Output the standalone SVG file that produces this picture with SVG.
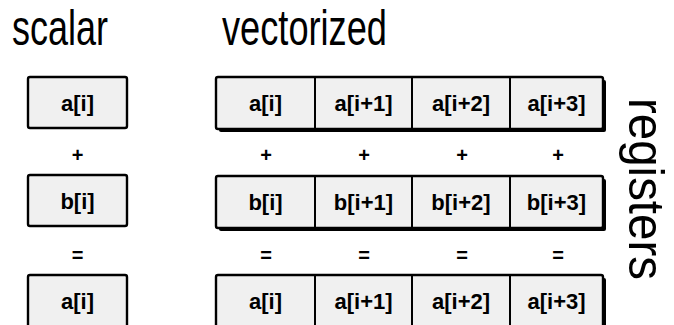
<svg xmlns="http://www.w3.org/2000/svg" width="674" height="325" viewBox="0 0 674 325">
<style>
.box{fill:#f0f0f0;stroke:#000;stroke-width:2.4}
.shadow{fill:#000}
.div{stroke:#000;stroke-width:2}
.lbl{font-family:"Liberation Sans",Arial,sans-serif;font-weight:bold;font-size:22px;text-anchor:middle;fill:#000}
.op{font-family:"Liberation Sans",Arial,sans-serif;font-weight:bold;font-size:20px;text-anchor:middle;fill:#000}
.title{font-family:"Liberation Sans",Arial,sans-serif;font-size:50px;fill:#000}
</style>
<rect width="674" height="325" fill="#fff"/>
<g id="titles">
<text class="title" x="12" y="45" textLength="96" lengthAdjust="spacingAndGlyphs">scalar</text>
<text class="title" x="222" y="45" textLength="165" lengthAdjust="spacingAndGlyphs">vectorized</text>
<text class="title" transform="translate(629,98) rotate(90)" x="0" y="0" textLength="182" lengthAdjust="spacingAndGlyphs">registers</text>
</g>
<g id="scalar-a">
<rect class="box" x="28" y="77" width="99" height="51" rx="2"/>
<text class="lbl" x="77.5" y="111">a[i]</text>
</g>
<g id="scalar-b">
<rect class="box" x="28" y="175" width="99" height="51" rx="2"/>
<text class="lbl" x="77.5" y="209">b[i]</text>
</g>
<g id="scalar-res">
<rect class="box" x="28" y="275" width="99" height="60" rx="2"/>
<text class="lbl" x="77.5" y="309">a[i]</text>
</g>
<g id="vector-a">
<rect class="shadow" x="219" y="80" width="387" height="52" rx="2"/>
<rect class="box" x="216" y="77" width="387" height="52" rx="2"/>
<line class="div" x1="315" y1="77" x2="315" y2="129"/>
<line class="div" x1="412" y1="77" x2="412" y2="129"/>
<line class="div" x1="510" y1="77" x2="510" y2="129"/>
<text class="lbl" x="265.5" y="111">a[i]</text>
<text class="lbl" x="363.5" y="111">a[i+1]</text>
<text class="lbl" x="461" y="111">a[i+2]</text>
<text class="lbl" x="556.5" y="111">a[i+3]</text>
</g>
<g id="vector-b">
<rect class="shadow" x="219" y="179" width="387" height="52" rx="2"/>
<rect class="box" x="216" y="176" width="387" height="52" rx="2"/>
<line class="div" x1="315" y1="176" x2="315" y2="228"/>
<line class="div" x1="412" y1="176" x2="412" y2="228"/>
<line class="div" x1="510" y1="176" x2="510" y2="228"/>
<text class="lbl" x="265.5" y="210">b[i]</text>
<text class="lbl" x="363.5" y="210">b[i+1]</text>
<text class="lbl" x="461" y="210">b[i+2]</text>
<text class="lbl" x="556.5" y="210">b[i+3]</text>
</g>
<g id="vector-res">
<rect class="shadow" x="219" y="278" width="387" height="60" rx="2"/>
<rect class="box" x="216" y="275" width="387" height="60" rx="2"/>
<line class="div" x1="315" y1="275" x2="315" y2="335"/>
<line class="div" x1="412" y1="275" x2="412" y2="335"/>
<line class="div" x1="510" y1="275" x2="510" y2="335"/>
<text class="lbl" x="265.5" y="309">a[i]</text>
<text class="lbl" x="363.5" y="309">a[i+1]</text>
<text class="lbl" x="461" y="309">a[i+2]</text>
<text class="lbl" x="556.5" y="309">a[i+3]</text>
</g>
<g id="operators">
<text class="op" x="77.5" y="162">+</text>
<text class="op" x="266" y="162">+</text>
<text class="op" x="364" y="162">+</text>
<text class="op" x="462" y="162">+</text>
<text class="op" x="558" y="162">+</text>
<text class="op" x="77.5" y="262">=</text>
<text class="op" x="266" y="262">=</text>
<text class="op" x="364" y="262">=</text>
<text class="op" x="462" y="262">=</text>
<text class="op" x="558" y="262">=</text>
</g>
</svg>
